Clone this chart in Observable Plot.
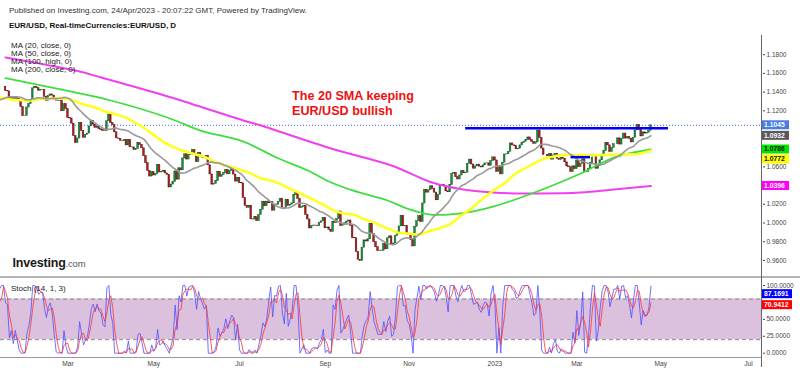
<!DOCTYPE html>
<html><head><meta charset="utf-8">
<script src="https://cdn.jsdelivr.net/npm/d3@7"></script>
<script src="https://cdn.jsdelivr.net/npm/@observablehq/plot@0.6"></script>
<style>
body{margin:0;background:#fff;font-family:"Liberation Sans",Arial,sans-serif;}
#wrap{position:relative;width:800px;height:372px;overflow:hidden;background:#fff;}
#wrap > *{position:absolute;}
</style></head><body><div id="wrap"></div>
<script>
// ---------- DATA ----------
const startDate = "2022-01-14"; // first visible daily bar
// daily closes before the first visible bar (used for MA20/MA50/Stoch look-back)
const preCloses = [1.1606,1.1580,1.1611,1.1553,1.1567,1.1588,1.1594,1.1479,1.1446,1.1445,
1.1368,1.1319,1.1319,1.1371,1.1290,1.1236,1.1248,1.1198,1.1208,1.1318,1.1291,1.1338,
1.1320,1.1300,1.1315,1.1285,1.1265,1.1343,1.1290,1.1315,1.1284,1.1258,1.1290,1.1330,1.1239,
1.1283,1.1285,1.1327,1.1325,1.1318,1.1327,1.1310,1.1350,1.1326,1.1370,
1.1297,1.1287,1.1313,1.1294,1.1360,1.1325,1.1366,1.1440,1.1456];
// visible daily closes, Jan 14 2022 .. Apr 24 2023
const closes = [
1.1413,1.1408,1.1325,1.1343,1.1311,1.1344,1.1326,1.1302,1.1241,1.1144,1.1146,1.1235,
1.1271,1.1306,1.1440,1.1454,1.1441,1.1415,1.1422,1.1424,1.1348,1.1307,1.1357,1.1375,1.1362,1.1321,1.1309,1.1306,1.1307,1.1195,1.1271,1.1219,
1.1126,1.1118,1.1063,1.0929,1.0855,1.0904,1.1072,1.0986,1.0911,1.0941,1.0957,1.1033,1.1094,1.1051,1.1016,1.1029,1.1003,1.0997,1.0984,1.0982,1.1088,1.1159,1.1067,
1.1046,1.0970,1.0905,1.0901,1.0880,1.0876,1.0886,1.0830,1.0889,1.0810,1.0808,1.0779,1.0789,1.0853,1.0835,1.0799,1.0715,1.0640,1.0557,1.0497,1.0545,
1.0508,1.0522,1.0622,1.0541,1.0546,1.0560,1.0530,1.0513,1.0380,1.0411,1.0437,1.0552,1.0464,1.0585,1.0563,1.0690,1.0735,1.0679,1.0726,1.0732,1.0780,1.0734,
1.0650,1.0750,1.0719,1.0697,1.0704,1.0716,1.0617,1.0519,1.0410,1.0418,1.0447,1.0548,1.0495,1.0513,1.0534,1.0567,1.0521,1.0555,1.0582,1.0518,1.0443,1.0484,
1.0426,1.0424,1.0267,1.0183,1.0162,1.0185,1.0039,1.0037,1.0062,1.0020,1.0087,1.0142,1.0228,1.0179,1.0229,1.0211,1.0224,1.0132,1.0198,1.0196,1.0226,
1.0260,1.0163,1.0162,1.0245,1.0183,1.0196,1.0211,1.0298,1.0319,1.0259,1.0160,1.0170,1.0180,1.0087,1.0038,0.9942,0.9967,0.9973,0.9972,0.9966,1.0000,1.0018,1.0054,
0.9944,0.9953,0.9927,0.9904,1.0011,1.0001,1.0043,1.0123,0.9969,0.9981,0.9997,1.0015,1.0027,0.9970,0.9838,0.9837,0.9690,0.9607,0.9594,0.9736,0.9815,0.9802,
0.9826,0.9988,0.9883,0.9795,0.9741,0.9702,0.9705,0.9703,0.9778,0.9719,0.9837,0.9858,0.9773,0.9781,0.9862,0.9880,0.9964,1.0078,0.9965,0.9966,0.9882,
0.9875,0.9817,0.9750,0.9960,1.0019,1.0074,1.0010,1.0209,1.0355,1.0325,1.0350,1.0393,1.0365,1.0325,1.0243,1.0303,1.0398,1.0406,1.0397,1.0339,1.0329,1.0405,
1.0525,1.0536,1.0490,1.0466,1.0508,1.0555,1.0532,1.0538,1.0632,1.0678,1.0626,1.0581,1.0606,1.0625,1.0603,1.0594,1.0616,1.0637,1.0638,1.0612,1.0661,1.0702,
1.0669,1.0548,1.0606,1.0520,1.0645,1.0733,1.0735,1.0762,1.0851,1.0830,1.0821,1.0788,1.0795,1.0830,1.0856,1.0870,1.0885,1.0915,1.0890,1.0868,1.0847,1.0863,
1.0989,1.0910,1.0796,1.0727,1.0727,1.0713,1.0737,1.0678,1.0723,1.0740,1.0687,1.0674,1.0695,1.0685,1.0648,1.0606,1.0596,1.0546,1.0606,1.0576,
1.0668,1.0597,1.0634,1.0681,1.0548,1.0545,1.0581,1.0640,1.0731,1.0730,1.0578,1.0609,1.0670,1.0717,1.0769,1.0858,1.0830,1.0760,1.0801,1.0843,1.0843,1.0905,1.0839,
1.0902,1.0956,1.0903,1.0920,1.0900,1.0862,1.0912,1.0991,1.1047,1.0993,1.0926,1.0970,1.0956,1.0965,1.0988,1.1045];
// MA(100, high) (bar number, value)
const ma100Bars = [0,32,54,83,100,122,139,155,167,178,196,206,218,228,240,250,260,278,295,312,331];
const ma100Vals = [1.1550,1.1412,1.1310,1.1128,1.0989,1.0870,1.0700,1.0561,1.0433,1.0348,1.0241,1.0155,1.0090,1.0092,1.0125,1.0175,1.0241,1.0380,1.0529,1.0700,1.0786];
// MA(200, close)
const ma200Bars = [0,37,49,85,122,131,167,198,218,233,250,274,295,312,331];
const ma200Vals = [1.1770,1.1625,1.1556,1.1342,1.1096,1.1043,1.0797,1.0615,1.0438,1.0364,1.0326,1.0316,1.0326,1.0358,1.0396];
// horizontal lines drawn on the chart
const levelFrom = ["2022-12-12","2023-02-24"];
const levelTo = ["2023-05-05","2023-03-10"];
const levelValue = [1.1012,1.0704];
const lastPrice = 1.1045;
// right-edge value labels
const priceLabelValues = [1.1045,1.0932,1.0786,1.0772,1.0396];
const stochLabelValues = [87.1691,70.9412];
// axes (ticks hidden behind the value labels are left out)
const tickMonths = ["2022-03","2022-05","2022-07","2022-09","2022-11","2023-01","2023-03","2023-05","2023-07"];
const tickLabels = ["Mar","May","Jul","Sep","Nov","2023","Mar","May","Jul"];
const priceTicks = [0.96,0.98,1.00,1.02,1.06,1.12,1.14,1.16,1.18];
const stochTicks = [0,25,50,100];
const stochBand = [20,80];

// ---------- BUILD ----------
const FONT = "'Liberation Sans', Arial, sans-serif";
const wrap = document.getElementById("wrap");
const days = d3.utcDay.range(new Date(startDate+"T00:00:00Z"), new Date("2023-08-01T00:00:00Z")).filter(d => d.getUTCDay()%6 !== 0);
const fmtM = d3.utcFormat("%Y-%m"), fmtD = d3.utcFormat("%Y-%m-%d");
const idxOfMonth = m => days.findIndex(d => fmtM(d) === m);
const idxOfDate = s => days.findIndex(d => fmtD(d) === s);

const all = preCloses.concat(closes).map((c, j) => ({i: j - preCloses.length, c}));
all.forEach((d, j) => { d.o = j > 0 ? all[j-1].c : d.c; });
all.forEach((d, j) => {
  const w = all.slice(Math.max(0, j-13), j+1).map(e => e.c);
  const lo = d3.min(w), hi = d3.max(w);
  d.k = hi > lo ? 100*(d.c-lo)/(hi-lo) : 50;
});
const bars = all.filter(d => d.i >= 0);
const ma100 = ma100Bars.map((b, j) => ({i: b, v: ma100Vals[j]}));
const ma200 = ma200Bars.map((b, j) => ({i: b, v: ma200Vals[j]}));
const levels = levelValue.map((v, j) => ({a: idxOfDate(levelFrom[j]), b: idxOfDate(levelTo[j]), v}));
const xticks = tickMonths.map((m, j) => ({i: idxOfMonth(m), label: tickLabels[j]}));

const xDom = [-5/1.95, 757/1.95];
const UP = "#1f8a3f", DN = "#b01e1e";

const price = Plot.plot({
  width: 800, height: 242, marginLeft: 0, marginRight: 38, marginTop: 0, marginBottom: 0,
  x: {domain: xDom, axis: null},
  y: {domain: [0.94175, 1.2005], axis: "right", ticks: priceTicks, tickFormat: d3.format(".4f"), tickSize: 2, tickPadding: 2, label: null},
  style: {fontSize: "6.5px", fontFamily: FONT, color: "#444", background: "transparent"},
  marks: [
    Plot.ruleY([lastPrice], {stroke: "#3a5ef0", strokeWidth: 1, strokeDasharray: "1,2"}),
    Plot.rect(bars, {x1: d => d.i - 0.42, x2: d => d.i + 0.42, y1: "o", y2: "c",
      fill: d => d.c >= d.o ? UP : DN, stroke: d => d.c >= d.o ? "#0d5a24" : "#5e0c0c", strokeWidth: 0.5}),
    Plot.line(ma200, {x: "i", y: "v", stroke: "#f040f0", strokeWidth: 2, curve: "catmull-rom"}),
    Plot.line(ma100, {x: "i", y: "v", stroke: "#3fdd3f", strokeWidth: 1.8, curve: "catmull-rom"}),
    Plot.line(all, Plot.windowY({k: 50, anchor: "end"}, {x: "i", y: "c", stroke: "#ffff22", strokeWidth: 2.6})),
    Plot.line(all, Plot.windowY({k: 20, anchor: "end"}, {x: "i", y: "c", stroke: "#999", strokeWidth: 1.6})),
    Plot.ruleY(levels, {x1: "a", x2: "b", y: "v", stroke: "#0000ff", strokeWidth: 2.5})
  ]
});
price.style.left = "0px"; price.style.top = "35px";
wrap.appendChild(price);

const stoch = Plot.plot({
  width: 800, height: 95, marginLeft: 0, marginRight: 38, marginTop: 0, marginBottom: 15,
  x: {domain: xDom, axis: null},
  y: {domain: [-6.35, 111.8], axis: "right", ticks: stochTicks, tickFormat: d3.format(".4f"), tickSize: 2, tickPadding: 2, label: null},
  style: {fontSize: "6.5px", fontFamily: FONT, color: "#444", background: "transparent"},
  marks: [
    Plot.rect([stochBand], {y1: d => d[0], y2: d => d[1], fill: "#dcc1de"}),
    Plot.ruleY(stochBand, {stroke: "#888", strokeDasharray: "4,3"}),
    Plot.line(all, {x: "i", y: "k", stroke: "#5050ff", strokeWidth: 1, strokeOpacity: 0.8}),
    Plot.line(all, Plot.windowY({k: 3, anchor: "end"}, {x: "i", y: "k", stroke: "#ff3333", strokeWidth: 1, strokeOpacity: 0.8})),
    Plot.text(xticks, {x: "i", text: "label", frameAnchor: "bottom", dy: 8, fontSize: 6.6, fill: "#444"})
  ]
});
stoch.style.left = "0px"; stoch.style.top = "277px";
wrap.appendChild(stoch);

function addLabels(svg, values, styles, w, gap) {
  const ys = svg.scale("y");
  const items = values.map((v, j) => ({v, y: ys.apply(v), ...styles[j]})).sort((a, b) => a.y - b.y);
  for (let j = 1; j < items.length; j++) items[j].y = Math.max(items[j].y, items[j-1].y + gap);
  const g = d3.select(svg).append("g").attr("text-anchor", "start");
  items.forEach(it => {
    g.append("rect").attr("x", 761).attr("y", it.y - 4.5).attr("width", w).attr("height", 9).attr("fill", it.bg);
    g.append("text").attr("x", 764).attr("y", it.y).attr("dy", "0.35em").attr("font-size", 6.8).attr("font-weight", "bold")
      .attr("text-anchor", "start").attr("font-family", FONT).attr("fill", it.fg).text(d3.format(".4f")(it.v));
  });
}
addLabels(price, priceLabelValues, [
  {bg: "#4a7de3", fg: "#fff"}, {bg: "#5a5a5a", fg: "#fff"}, {bg: "#00e600", fg: "#111"},
  {bg: "#ffff00", fg: "#111"}, {bg: "#ff00ff", fg: "#fff"}], 28, 10);
addLabels(stoch, stochLabelValues, [{bg: "#0000ff", fg: "#fff"}, {bg: "#ff0000", fg: "#fff"}], 31, 10);

// frame lines
function line(l, t, w, h, c) { const d = document.createElement("div"); d.style.cssText = `left:${l}px;top:${t}px;width:${w}px;height:${h}px;background:${c}`; wrap.appendChild(d); }
line(0, 276, 800, 2, "#b4b4b4");
line(0, 357, 762, 1, "#999");
line(761, 35, 1, 332, "#666");

// texts
const ov = d3.select(wrap).append("svg").attr("width", 800).attr("height", 372)
  .style("left", "0px").style("top", "0px").style("pointer-events", "none").attr("font-family", FONT);
ov.append("text").attr("x", 9).attr("y", 13.3).attr("font-size", 8).attr("fill", "#333")
  .text("Published on Investing.com, 24/Apr/2023 - 20:07:22 GMT, Powered by TradingView.");
ov.append("text").attr("x", 9).attr("y", 27.7).attr("font-size", 8).attr("font-weight", "bold").attr("fill", "#111")
  .text("EUR/USD, Real-timeCurrencies:EUR/USD, D");
["MA (20, close, 0)", "MA (50, close, 0)", "MA (100, high, 0)", "MA (200, close, 0)"].forEach((t, j) =>
  ov.append("text").attr("x", 11).attr("y", 47.6 + j*8.1).attr("font-size", 8).attr("fill", "#222").text(t));
ov.append("text").attr("x", 292).attr("y", 100.3).attr("font-size", 12.6).attr("font-weight", "bold").attr("fill", "#ee1111").text("The 20 SMA keeping");
ov.append("text").attr("x", 292).attr("y", 114.8).attr("font-size", 12.6).attr("font-weight", "bold").attr("fill", "#ee1111").text("EUR/USD bullish");
const logo = ov.append("text").attr("x", 12.5).attr("y", 267).attr("font-size", 12.5).attr("font-weight", "bold").attr("fill", "#1a1a1a").attr("letter-spacing", -0.2);
logo.append("tspan").text("Investing");
logo.append("tspan").attr("font-size", 9.5).attr("font-weight", "normal").attr("fill", "#555").text(".com");
ov.append("text").attr("x", 11).attr("y", 290.6).attr("font-size", 8).attr("fill", "#222").text("Stoch (14, 1, 3)");
</script></body></html>
